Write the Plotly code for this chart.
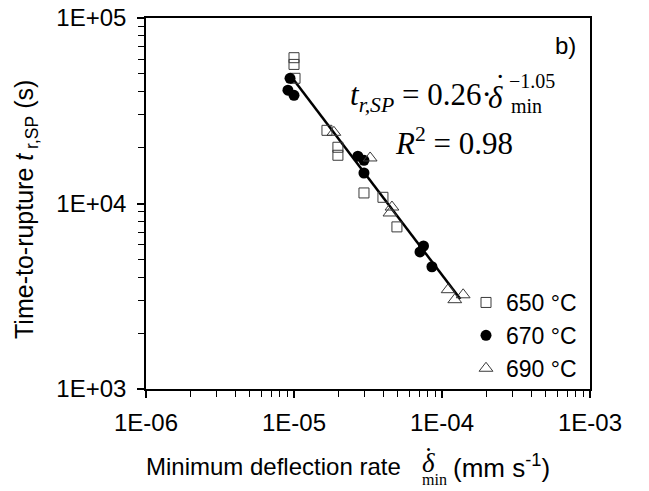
import plotly.graph_objects as go
import numpy as np

# ---- data ----
x_650 = [1.00e-5, 1.00e-5, 1.016e-5, 1.67e-5, 1.98e-5, 1.98e-5, 2.97e-5, 3.99e-5, 4.96e-5]
y_650 = [61100, 56200, 47300, 24800, 20100, 18200, 11400, 10800, 7480]

x_670 = [9.4e-6, 9.1e-6, 1.00e-5, 2.70e-5, 2.97e-5, 2.97e-5, 7.50e-5, 7.10e-5, 8.55e-5]
y_670 = [47300, 40800, 38300, 18000, 17100, 14600, 5900, 5480, 4560]

x_690 = [1.86e-5, 3.27e-5, 4.59e-5, 4.45e-5, 1.10e-4, 1.22e-4, 1.39e-4]
y_690 = [24200, 17600, 9570, 8890, 3430, 3030, 3220]

fit_a = 0.26
fit_b = -1.05
fit_r2 = 0.98
fit_xmin, fit_xmax = 9.6e-6, 1.33e-4

series_names = ["650 °C", "670 °C", "690 °C"]
x_ticks = [1e-6, 1e-5, 1e-4, 1e-3]
x_ticklabels = ["1E-06", "1E-05", "1E-04", "1E-03"]
y_ticks = [1e3, 1e4, 1e5]
y_ticklabels = ["1E+03", "1E+04", "1E+05"]

SANS = "Liberation Sans, Arial, sans-serif"
SERIF = "Liberation Serif, Times New Roman, serif"

fig = go.Figure()

fx = np.logspace(np.log10(fit_xmin), np.log10(fit_xmax), 50)
fig.add_trace(go.Scatter(x=fx, y=fit_a * fx ** fit_b, mode="lines",
                         line=dict(color="black", width=2.5), showlegend=False,
                         hoverinfo="skip"))

fig.add_trace(go.Scatter(x=x_650, y=y_650, mode="markers", name=series_names[0],
                         marker=dict(symbol="square-open", size=10, color="#3a3a3a",
                                     line=dict(width=1))))
fig.add_trace(go.Scatter(x=x_670, y=y_670, mode="markers", name=series_names[1],
                         marker=dict(symbol="circle", size=11, color="black")))
fig.add_trace(go.Scatter(x=x_690, y=y_690, mode="markers", name=series_names[2],
                         marker=dict(symbol="triangle-up-open", size=12, color="#3a3a3a",
                                     line=dict(width=1))))

axis_common = dict(type="log", showgrid=False, zeroline=False, showline=True,
                   linecolor="black", linewidth=1.6, mirror=True, ticks="outside",
                   ticklen=7, tickwidth=1.5, tickcolor="black", automargin=False,
                   tickfont=dict(family=SANS, size=24, color="black"),
                   minor=dict(ticks="outside", ticklen=6, tickwidth=1.2,
                              tickcolor="black", dtick="D1", showgrid=False))

fig.update_xaxes(range=[-6, -3], tickvals=x_ticks, ticktext=x_ticklabels,
                 ticklabelstandoff=4, **axis_common)
fig.update_yaxes(range=[3, 5], tickvals=y_ticks, ticktext=y_ticklabels,
                 ticklabelstandoff=6, **axis_common)

W, H = 649, 491
L, R, T, B = 146, 59, 18, 102
pw, ph = W - L - R, H - T - B

def px(x):
    return (x - L) / pw

def py(y):
    return (H - B - y) / ph

def note(text, x, y, font, size, xanchor="left", yanchor="middle", angle=0):
    return dict(text=text, x=px(x), y=py(y), xref="paper", yref="paper",
                xanchor=xanchor, yanchor=yanchor, showarrow=False, textangle=angle,
                font=dict(family=font, size=size, color="black"))

ann = [
    note("b)", 578, 45, SANS, 24, xanchor="right"),
    # fitted equation
    note(f"<i>t</i><sub><i>r,SP</i></sub> = {fit_a:.2f}·", 348, 97, SERIF, 31),
    note("<i>δ</i>", 486, 97, SERIF, 31),
    note("˙", 500, 86, SERIF, 31, xanchor="center"),
    note(f"−{abs(fit_b):.2f}", 507, 81, SERIF, 20),
    note("min", 509, 106, SERIF, 20),
    note(f"<i>R</i><sup>2</sup> = {fit_r2:.2f}", 393, 141, SERIF, 31),
    # x-axis title
    note("Minimum deflection rate", 144, 466, SANS, 24),
    note("<i>δ</i>", 420, 463, SERIF, 27),
    note("˙", 428, 457, SERIF, 27, xanchor="center"),
    note("min", 420, 479, SERIF, 16),
    note("(mm s<sup>-1</sup>)", 451, 466, SANS, 26),
    # y-axis title
    note("Time-to-rupture <i>t</i><sub>\u00a0r,SP</sub>\u00a0(s)", 26, 210, SANS, 25,
         xanchor="center", angle=-90),
]

fig.update_layout(width=W, height=H, margin=dict(l=L, r=R, t=T, b=B, pad=0),
                  paper_bgcolor="white", plot_bgcolor="white",
                  annotations=ann,
                  legend=dict(x=px(466), y=py(281), xanchor="left", yanchor="top",
                              bgcolor="rgba(0,0,0,0)", borderwidth=0,
                              font=dict(family=SANS, size=23, color="black"),
                              itemwidth=30, tracegroupgap=0))

fig.write_html("out.html", config={"displayModeBar": False},
               post_script="document.body.style.margin='0';")
